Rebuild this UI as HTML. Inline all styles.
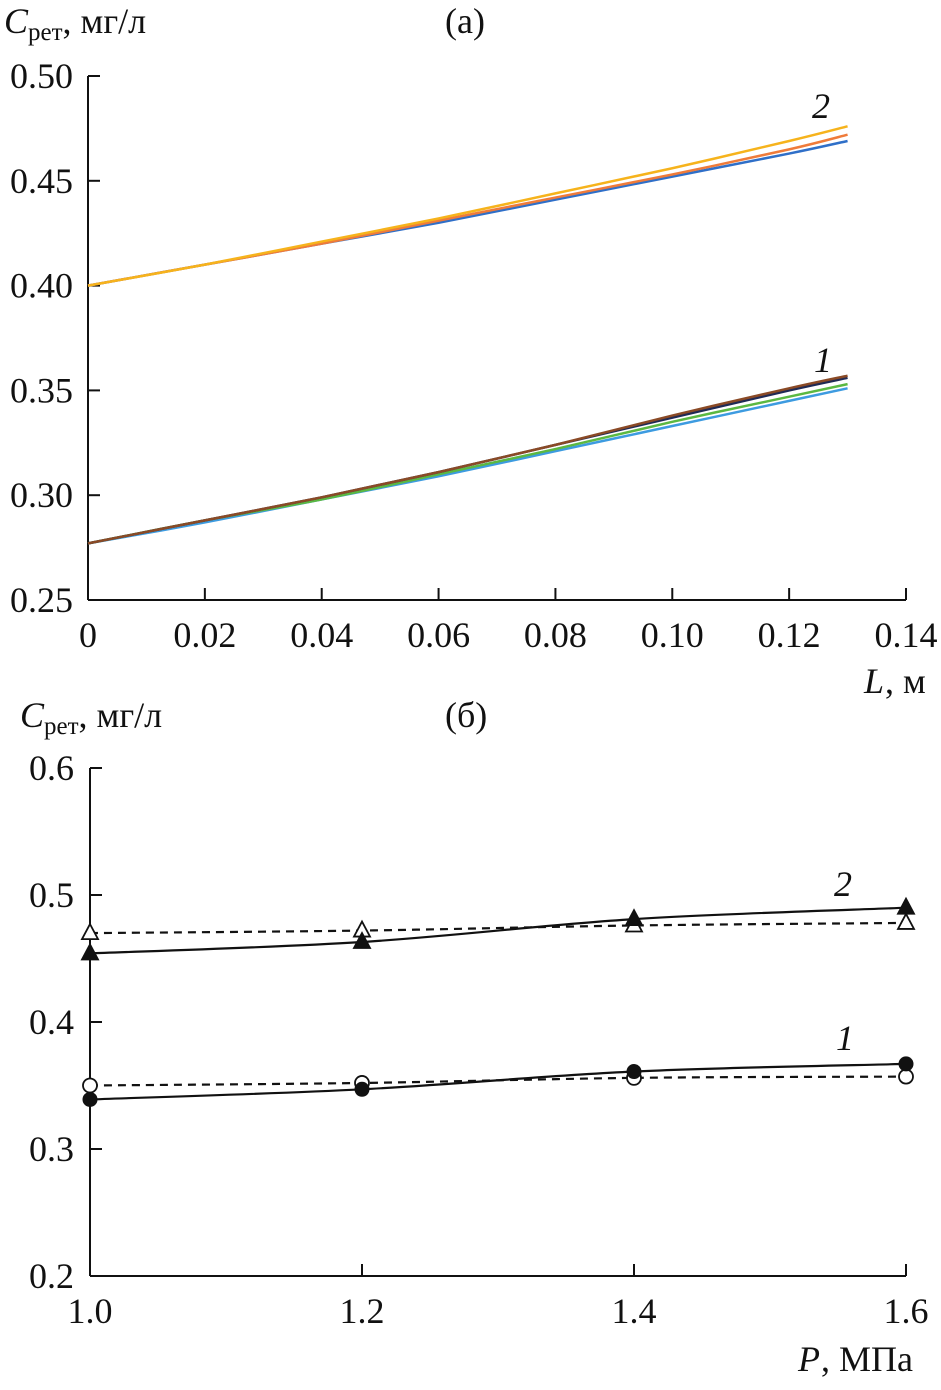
<!DOCTYPE html>
<html><head><meta charset="utf-8"><style>
body{margin:0;background:#fff}
svg text{font-family:"Liberation Serif","Times New Roman",serif;font-size:36px;fill:#111}
</style></head><body>
<svg id="s" width="941" height="1385" xmlns="http://www.w3.org/2000/svg" font-family="Liberation Serif, serif"></svg>
<script>
const aL=[0,0.02,0.04,0.06,0.08,0.10,0.12,0.13];
const aYellow=[0.400,0.410,0.421,0.432,0.444,0.456,0.469,0.476];
const aOrange=[0.400,0.410,0.420,0.431,0.442,0.453,0.465,0.472];
const aBlue=[0.400,0.410,0.420,0.430,0.441,0.452,0.463,0.469];
const aBrown=[0.277,0.288,0.299,0.311,0.324,0.338,0.351,0.357];
const aNavy=[0.277,0.288,0.299,0.311,0.324,0.337,0.350,0.356];
const aGreen=[0.277,0.288,0.298,0.310,0.322,0.335,0.347,0.353];
const aLightBlue=[0.277,0.287,0.298,0.309,0.321,0.333,0.345,0.351];
const aXTicks=["0","0.02","0.04","0.06","0.08","0.10","0.12","0.14"];
const aYTicks=["0.25","0.30","0.35","0.40","0.45","0.50"];
const bP=[1.0,1.2,1.4,1.6];
const b2Solid=[0.454,0.463,0.481,0.490];
const b2Dash=[0.470,0.472,0.476,0.478];
const b1Solid=[0.339,0.347,0.361,0.367];
const b1Dash=[0.350,0.352,0.356,0.357];
const bXTicks=["1.0","1.2","1.4","1.6"];
const bYTicks=["0.2","0.3","0.4","0.5","0.6"];
const S=document.getElementById('s'),NS='http://www.w3.org/2000/svg';
function mk(t,a,txt){const e=document.createElementNS(NS,t);for(const k in a)e.setAttribute(k,a[k]);if(txt!=null)e.textContent=txt;S.appendChild(e);return e;}
const ax=v=>88+v/0.14*818, ay=v=>600-(v-0.25)/0.05*104.8;
const bx=v=>90+(v-1)/0.6*816, by=v=>1276-(v-0.2)/0.1*127;
function smooth(pts){let d='M'+pts[0][0]+','+pts[0][1];for(let i=0;i<pts.length-1;i++){const p0=pts[Math.max(i-1,0)],p1=pts[i],p2=pts[i+1],p3=pts[Math.min(i+2,pts.length-1)];const c1=[p1[0]+(p2[0]-p0[0])/6,p1[1]+(p2[1]-p0[1])/6],c2=[p2[0]-(p3[0]-p1[0])/6,p2[1]-(p3[1]-p1[1])/6];d+=`C${c1[0]},${c1[1]} ${c2[0]},${c2[1]} ${p2[0]},${p2[1]}`;}return d;}
function ctitle(x,y,name){const t=mk('text',{x:x,y:y});t.innerHTML='<tspan font-style="italic">C</tspan><tspan font-size="25" dy="7">рет</tspan><tspan dy="-7">, мг/л</tspan>';
 }
let e=mk('line',{x1:88,y1:76,x2:88,y2:600,stroke:'#111','stroke-width':2});

e=mk('line',{x1:88,y1:600,x2:906,y2:600,stroke:'#111','stroke-width':2});

aYTicks.forEach(t=>{const y=ay(+t);mk('line',{x1:88,y1:y,x2:100,y2:y,stroke:'#111','stroke-width':2});
e=mk('text',{x:73,y:y+12,'text-anchor':'end'},t);});
aXTicks.forEach(t=>{const x=ax(+t);mk('line',{x1:x,y1:588,x2:x,y2:600,stroke:'#111','stroke-width':2});
e=mk('text',{x:x,y:647,'text-anchor':'middle'},t);});
[[aLightBlue,'#3d9be0','a-curve-1-lightblue'],[aGreen,'#5bb842','a-curve-1-green'],[aNavy,'#1f2a55','a-curve-1-navy'],[aBrown,'#8a4a26','a-curve-1-brown'],
 [aBlue,'#2f6fc8','a-curve-2-blue'],[aOrange,'#ef7b3a','a-curve-2-orange'],[aYellow,'#f6b31c','a-curve-2-yellow']].forEach(([arr,c,n])=>{
 e=mk('path',{d:smooth(aL.map((v,i)=>[ax(v),ay(arr[i])])),fill:'none',stroke:c,'stroke-width':2.5});
 });
ctitle(4,33,'a-y-axis-title');
e=mk('text',{x:445,y:33},'(а)');
e=mk('text',{x:864,y:693,'font-style':'italic'},'L');
mk('text',{x:885,y:693},', м');
mk('text',{x:812,y:118,'font-style':'italic'},'2');mk('text',{x:814,y:372,'font-style':'italic'},'1');
e=mk('line',{x1:90,y1:768,x2:90,y2:1276,stroke:'#111','stroke-width':2});
e=mk('line',{x1:90,y1:1276,x2:906,y2:1276,stroke:'#111','stroke-width':2});
bYTicks.forEach(t=>{const y=by(+t);mk('line',{x1:90,y1:y,x2:102,y2:y,stroke:'#111','stroke-width':2});
e=mk('text',{x:74,y:y+12,'text-anchor':'end'},t);});
bXTicks.forEach(t=>{const x=bx(+t);mk('line',{x1:x,y1:1264,x2:x,y2:1276,stroke:'#111','stroke-width':2});
e=mk('text',{x:x,y:1323,'text-anchor':'middle'},t);});
[[b2Dash,'8,6','b-line-2-dashed'],[b1Dash,'8,6','b-line-1-dashed'],[b2Solid,null,'b-line-2-solid'],[b1Solid,null,'b-line-1-solid']].forEach(([arr,da,n])=>{
 const a={d:smooth(bP.map((v,i)=>[bx(v),by(arr[i])])),fill:'none',stroke:'#111','stroke-width':2.2};if(da)a['stroke-dasharray']=da;
 e=mk('path',a);});
function tri(x,y,f){return mk('polygon',{points:`${x},${y-9} ${x-8},${y+6} ${x+8},${y+6}`,fill:f?'#111':'#fff',stroke:'#111','stroke-width':1.8});}
bP.forEach((p,i)=>{
 e=tri(bx(p),by(b2Dash[i]),false);
 e=tri(bx(p),by(b2Solid[i]),true);
 e=mk('circle',{cx:bx(p),cy:by(b1Dash[i]),r:7,fill:'#fff',stroke:'#111','stroke-width':1.8});
 e=mk('circle',{cx:bx(p),cy:by(b1Solid[i]),r:7.5,fill:'#111'});
});
ctitle(20,727,'b-y-axis-title');
e=mk('text',{x:445,y:727},'(б)');
e=mk('text',{x:798,y:1371,'font-style':'italic'},'P');
mk('text',{x:821,y:1371},', МПа');
mk('text',{x:834,y:896,'font-style':'italic'},'2');mk('text',{x:836,y:1050,'font-style':'italic'},'1');
</script>
</body></html>
